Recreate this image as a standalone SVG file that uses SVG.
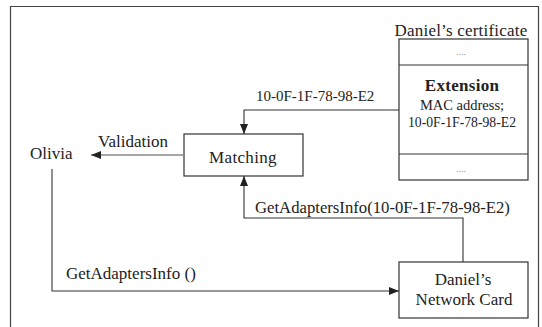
<svg xmlns="http://www.w3.org/2000/svg" width="542" height="327" viewBox="0 0 542 327" font-family="Liberation Serif, Times New Roman, serif">
<defs>
<marker id="ah" viewBox="0 0 10 8" refX="10" refY="4" markerWidth="10" markerHeight="8" markerUnits="userSpaceOnUse" orient="auto">
<path d="M0,0 L10,4 L0,8 Z" fill="#222"/>
</marker>
</defs>
<rect x="0" y="0" width="542" height="327" fill="#fff"/>
<path d="M10.5,335 V6.5 H538.5 V335" fill="none" stroke="#444" stroke-width="1.2"/>
<g id="certificate">
<text font-size="17" letter-spacing="0.2" fill="#222" x="461" y="36" text-anchor="middle">Daniel&#8217;s certificate</text>
<rect fill="#fff" stroke="#333" stroke-width="1.2" x="399" y="39" width="129" height="141"/>
<line stroke="#333" stroke-width="1.1" x1="399" y1="65" x2="528" y2="65"/>
<line stroke="#333" stroke-width="1.1" x1="399" y1="154" x2="528" y2="154"/>
<text font-size="10" fill="#999" x="461" y="55" text-anchor="middle">....</text>
<text font-size="17" font-weight="bold" letter-spacing="0.3" fill="#222" x="462" y="91" text-anchor="middle">Extension</text>
<text font-size="14.5" fill="#222" x="462" y="110" text-anchor="middle">MAC address;</text>
<text font-size="13.7" fill="#222" x="462" y="127" text-anchor="middle">10-0F-1F-78-98-E2</text>
<text font-size="10" fill="#999" x="461" y="172" text-anchor="middle">....</text>
</g>
<g id="matching">
<rect fill="#fff" stroke="#333" stroke-width="1.2" x="184" y="134" width="119" height="42"/>
<text font-size="17" letter-spacing="0.35" fill="#222" x="243" y="163" text-anchor="middle">Matching</text>
</g>
<g id="olivia">
<text font-size="17" fill="#222" x="30" y="159">Olivia</text>
</g>
<g id="networkcard">
<rect fill="#fff" stroke="#333" stroke-width="1.2" x="399" y="262" width="129" height="56"/>
<text font-size="17" fill="#222" x="463" y="285" text-anchor="middle">Daniel&#8217;s</text>
<text font-size="17" fill="#222" x="464" y="305" text-anchor="middle">Network Card</text>
</g>
<g id="connectors">
<path fill="none" stroke="#333" stroke-width="1.1" d="M399,110 H244 V134" marker-end="url(#ah)"/>
<text font-size="15" fill="#222" x="256" y="101">10-0F-1F-78-98-E2</text>
<path fill="none" stroke="#888" stroke-width="1.3" d="M184,155 H91" marker-end="url(#ah)"/>
<text font-size="17" fill="#222" x="98" y="147">Validation</text>
<path fill="none" stroke="#333" stroke-width="1.1" d="M463,262 V218 H244 V176" marker-end="url(#ah)"/>
<text font-size="16.7" fill="#222" x="255" y="213">GetAdaptersInfo(10-0F-1F-78-98-E2)</text>
<path fill="none" stroke="#333" stroke-width="1.1" d="M52,169 V291 H399" marker-end="url(#ah)"/>
<text font-size="17" fill="#222" x="66" y="279">GetAdaptersInfo ()</text>
</g>
</svg>
